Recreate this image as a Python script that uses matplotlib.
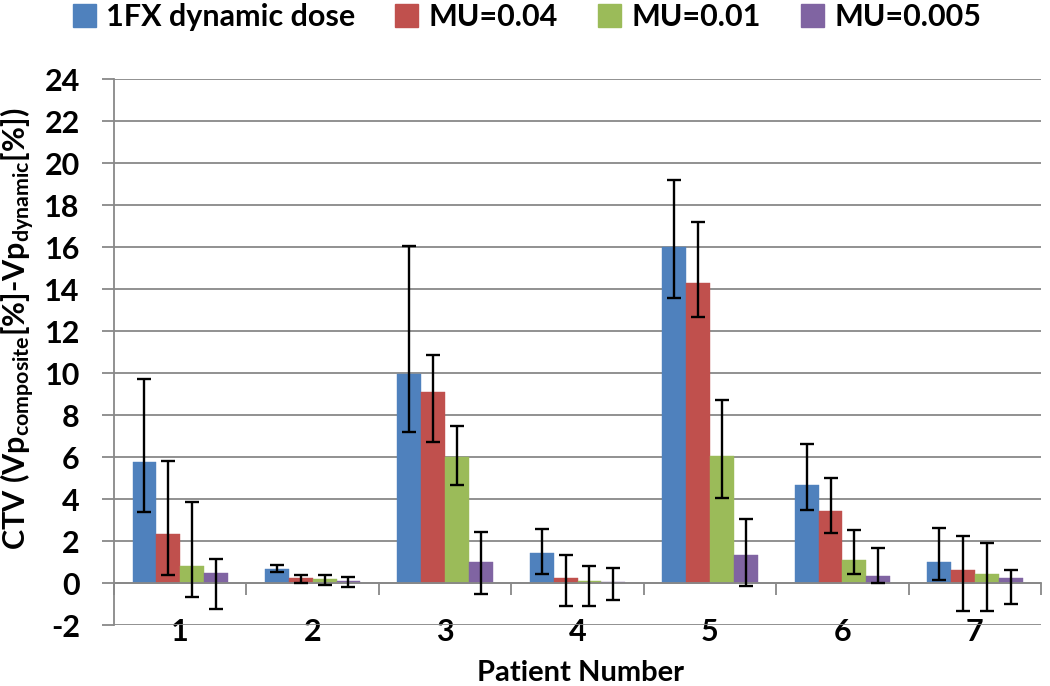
import numpy as np
import matplotlib
matplotlib.use("Agg")
import matplotlib.pyplot as plt
from matplotlib.patches import Patch

plt.rcParams['font.family'] = ['Lato', 'DejaVu Sans']
plt.rcParams['font.weight'] = 'bold'
plt.rcParams['axes.unicode_minus'] = False
plt.rcParams['mathtext.fontset'] = 'custom'
plt.rcParams['mathtext.rm'] = 'Lato:bold'
plt.rcParams['mathtext.bf'] = 'Lato:bold'
plt.rcParams['mathtext.it'] = 'Lato:bold'

patients = ['1', '2', '3', '4', '5', '6', '7']
series_names = ['1FX dynamic dose', 'MU=0.04', 'MU=0.01', 'MU=0.005']
colors = ['#4F81BD', '#C0504D', '#9BBB59', '#8064A2']

# bar heights
dyn_dose = [5.75, 0.68, 9.94, 1.45, 16.03, 4.67, 1.02]
mu_004 = [2.34, 0.22, 9.10, 0.22, 14.28, 3.41, 0.64]
mu_001 = [0.81, 0.19, 6.00, 0.10, 6.07, 1.10, 0.42]
mu_0005 = [0.49, 0.10, 0.99, 0.05, 1.32, 0.35, 0.26]

# whisker ends (top / bottom)
dyn_hi = [9.70, 0.88, 16.08, 2.58, 19.18, 6.64, 2.64]
dyn_lo = [3.39, 0.54, 7.18, 0.43, 13.60, 3.50, 0.16]
mu004_hi = [5.83, 0.38, 10.87, 1.35, 17.19, 5.02, 2.26]
mu004_lo = [0.38, 0.00, 6.74, -1.10, 12.68, 2.38, -1.34]
mu001_hi = [3.84, 0.38, 7.49, 0.81, 8.73, 2.52, 1.93]
mu001_lo = [-0.65, -0.08, 4.68, -1.10, 4.05, 0.43, -1.34]
mu0005_hi = [1.13, 0.27, 2.42, 0.70, 3.07, 1.66, 0.64]
mu0005_lo = [-1.23, -0.18, -0.54, -0.81, -0.13, 0.00, -0.99]

means = [dyn_dose, mu_004, mu_001, mu_0005]
highs = [dyn_hi, mu004_hi, mu001_hi, mu0005_hi]
lows = [dyn_lo, mu004_lo, mu001_lo, mu0005_lo]

grid_col = '#888888'

fig = plt.figure(figsize=(10.5, 6.86), dpi=100)
ax = fig.add_axes([0.1086, 0.0889, 0.8829, 0.7955])

x = np.arange(len(patients))
w = 0.18
for i in range(4):
    m = np.array(means[i])
    yerr = [m - np.array(lows[i]), np.array(highs[i]) - m]
    pos = x + (i - 1.5) * w
    ax.bar(pos, m, width=w, color=colors[i], edgecolor=colors[i], linewidth=0.3, zorder=2)
    ax.errorbar(pos, m, yerr=yerr, fmt='none', ecolor='black', elinewidth=1.7,
                capsize=5, capthick=1.7, zorder=3)

ax.set_ylim(-2, 24)
ax.set_xlim(-0.5, len(patients) - 0.5)
ax.set_yticks(np.arange(-2, 25, 2))
ax.yaxis.grid(True, color=grid_col, linewidth=1.3)
ax.set_axisbelow(True)

for s in ['top', 'right']:
    ax.spines[s].set_visible(False)
ax.spines['left'].set_color(grid_col)
ax.spines['left'].set_linewidth(1.3)
ax.spines['bottom'].set_position(('data', 0))
ax.spines['bottom'].set_color(grid_col)
ax.spines['bottom'].set_linewidth(1.3)

ax.set_xticks(x)
ax.set_xticklabels(patients, fontsize=22, fontweight='bold')
ax.set_xticks(np.arange(-0.5, len(patients), 1), minor=True)
ax.tick_params(axis='x', which='major', length=0, pad=25)
ax.tick_params(axis='x', which='minor', length=8.6, width=1.3, color=grid_col, direction='out')
ax.tick_params(axis='y', length=8.6, width=1.3, color=grid_col, direction='out', pad=16, labelsize=22)
for t in ax.get_yticklabels():
    t.set_fontweight('bold')

fig.text(0.017, 0.52, r'CTV (Vp$_{\mathbf{composite}}$[%]-Vp$_{\mathbf{dynamic}}$[%])',
         rotation=90, ha='center', va='center', fontsize=22, fontweight='bold')
fig.text(0.553, 0.0, 'Patient Number', ha='center', va='bottom', fontsize=21, fontweight='bold')

handles = [Patch(facecolor=c, edgecolor=c) for c in colors]
fig.legend(handles, series_names, loc='center', bbox_to_anchor=(0.502, 0.975), ncol=4,
           frameon=False, fontsize=22, handlelength=0.75, handleheight=0.75,
           handletextpad=0.35, columnspacing=1.3, borderaxespad=0, borderpad=0)

fig.savefig('out.png', dpi=100)
